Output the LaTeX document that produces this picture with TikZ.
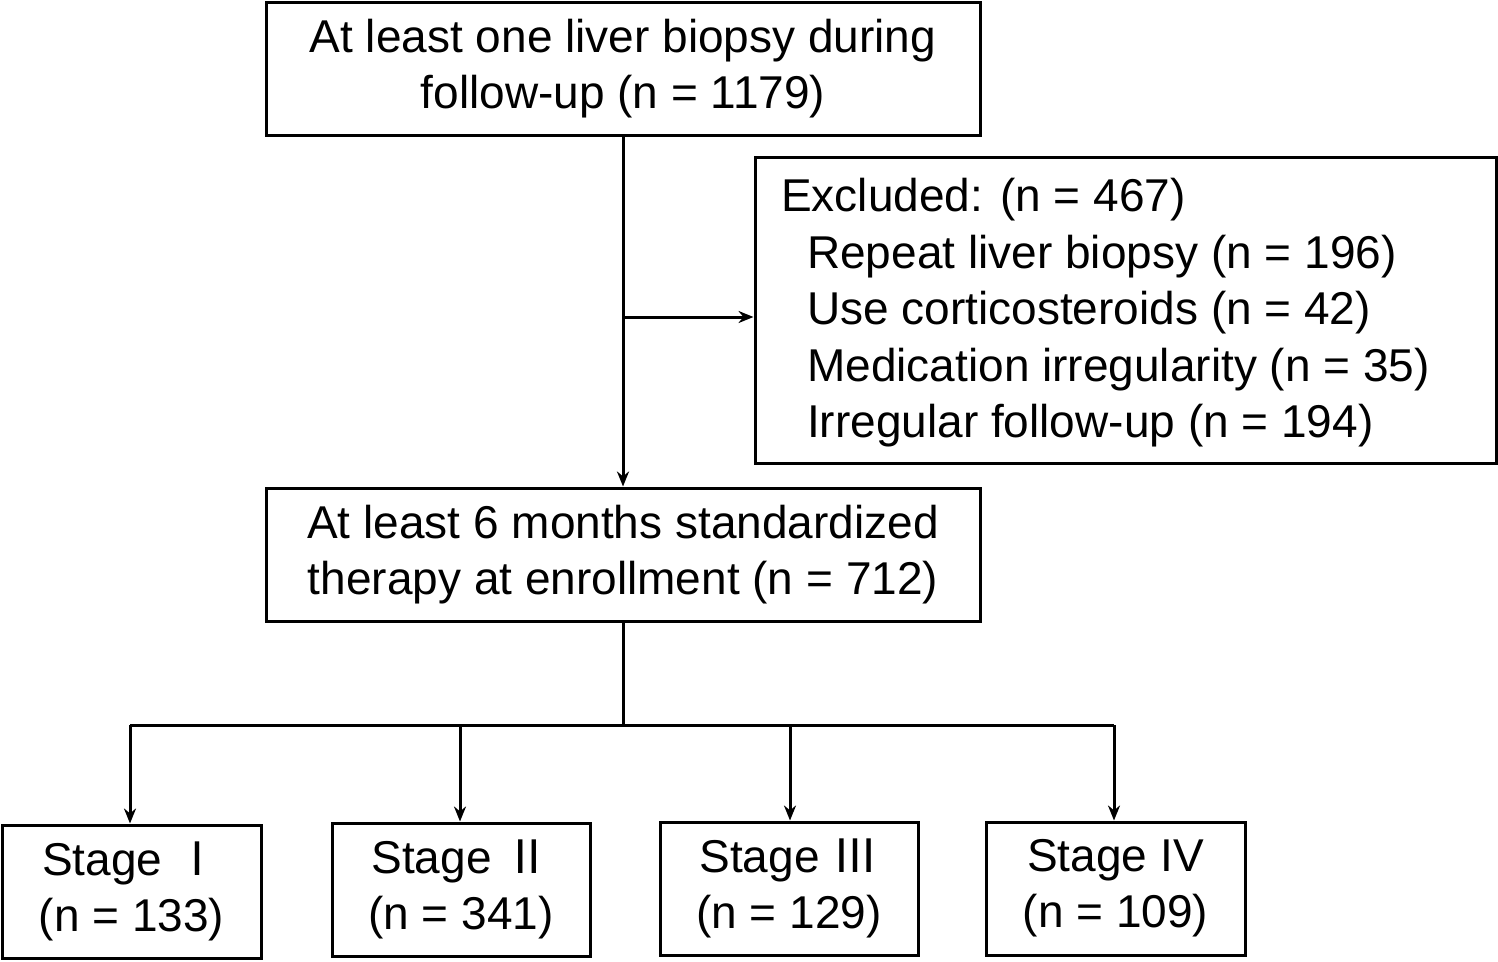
\documentclass[tikz,border=0pt]{standalone}
\usepackage{fontspec}
\setmainfont{Liberation Sans}
\newfontfamily\cjk{Noto Sans CJK SC}
\usetikzlibrary{arrows.meta}
\begin{document}
\begin{tikzpicture}[x=1pt,y=-1pt,
  box/.style={draw,line width=3pt,inner sep=0pt,align=center,font=\fontsize{46}{56}\selectfont},
  arr/.style={line width=3pt,-{Stealth[length=15pt,width=12pt]}},
  ln/.style={line width=3pt}]
\useasboundingbox (0,0) rectangle (1498,961);
\node[box,minimum width=714,minimum height=133] (top) at (623,68.5) {At least one liver biopsy during\\follow-up (n = 1179)};
\node[box,minimum width=741,minimum height=306] (exc) at (1125.5,310) {};
\node[inner sep=0pt,anchor=west,align=left,font=\fontsize{46}{56.5}\selectfont] (exct) at (781,313) {Excluded: (n = 467)\\\hspace*{26pt}Repeat liver biopsy (n = 196)\\\hspace*{26pt}Use corticosteroids (n = 42)\\\hspace*{26pt}Medication irregularity (n = 35)\\\hspace*{26pt}Irregular follow-up (n = 194)};
\node[box,minimum width=714,minimum height=133] (mid) at (623,554.5) {At least 6 months standardized\\therapy at enrollment (n = 712)};
\node[box,minimum width=259,minimum height=133] (s1) at (131.5,891.5) {Stage {\cjk Ⅰ}\\(n = 133)};
\node[box,minimum width=258,minimum height=133] (s2) at (461,889.5) {Stage {\cjk Ⅱ}\\(n = 341)};
\node[box,minimum width=258,minimum height=133] (s3) at (789,888.5) {Stage {\cjk Ⅲ}\\(n = 129)};
\node[box,minimum width=259,minimum height=133] (s4) at (1115.5,888.5) {Stage IV\\(n = 109)};
\coordinate (b) at (623,317);
\draw[arr] (top.south) -- (mid.north);
\draw[arr] (b) -- (exc.west |- b);
\coordinate (j) at (623,725);
\draw[ln] (mid.south) -- (j);
\draw[ln] (130,725) -- (1114,725);
\draw[arr] (130,725) -- (s1.north -| 130,0);
\draw[arr] (460,725) -- (s2.north -| 460,0);
\draw[arr] (790,725) -- (s3.north -| 790,0);
\draw[arr] (1114,725) -- (s4.north -| 1114,0);
\end{tikzpicture}
\end{document}
